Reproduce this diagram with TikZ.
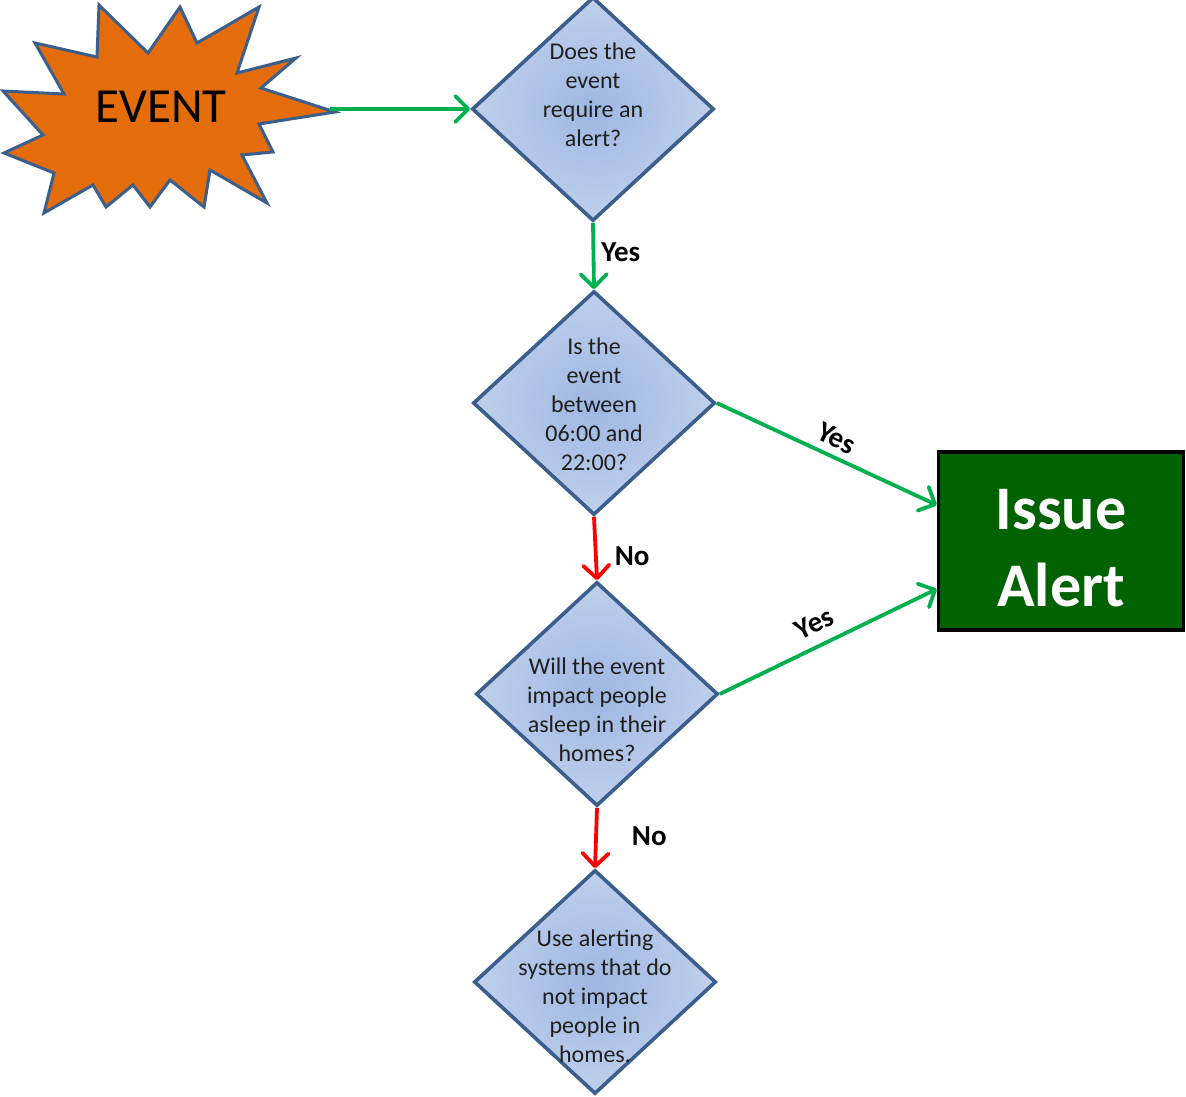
\documentclass[tikz,border=0pt]{standalone}
\usepackage{fontspec}
\setmainfont{Carlito}
\usetikzlibrary{shapes.geometric, arrows.meta}
\definecolor{burstorange}{RGB}{228,108,10}
\definecolor{shapeblue}{RGB}{58,95,140}
\definecolor{fillcentre}{RGB}{158,182,226}
\definecolor{fillrim}{RGB}{204,217,240}
\definecolor{yesgreen}{RGB}{0,176,80}
\definecolor{nored}{RGB}{255,0,0}
\definecolor{alertgreen}{RGB}{0,98,0}
\pgfdeclareradialshading{qglow}{\pgfpoint{0bp}{0bp}}{color(0bp)=(fillcentre); color(34bp)=(fillrim); color(50bp)=(fillrim)}
\tikzstyle{burst} = [draw=shapeblue, line width=3pt, fill=burstorange, line join=miter]
\tikzstyle{eventtext} = [font=\fontsize{49}{58}\selectfont, text=black, inner sep=0pt]
\tikzstyle{question} = [diamond, draw=shapeblue, line width=3.6pt, inner sep=0pt, minimum width=242pt, minimum height=224pt, shading=qglow]
\tikzstyle{qtext} = [align=center, font=\fontsize{24}{29}\selectfont, text=black!88, inner sep=0pt]
\tikzstyle{alertbox} = [rectangle, draw=black, line width=3.5pt, fill=alertgreen, minimum width=245pt, minimum height=178pt]
\tikzstyle{alerttext} = [align=center, font=\bfseries\fontsize{62}{77}\selectfont, text=white, inner sep=0pt]
\tikzstyle{branch} = [font=\bfseries\fontsize{29}{34}\selectfont, text=black, inner sep=0pt]
\tikzstyle{yesarrow} = [line width=3.8pt, draw=yesgreen, -{Straight Barb[length=13pt, width=26pt, round]}]
\tikzstyle{noarrow} = [line width=3.8pt, draw=nored, -{Straight Barb[length=13pt, width=26pt, round]}]

\begin{document}
\begin{tikzpicture}[x=1pt, y=-1pt]
        \useasboundingbox (0,0) rectangle (1186,1097);
        % the event burst
        \draw [burst] (99,5) -- (148,53) -- (180,7) -- (197,43) -- (259,7) -- (237,73) -- (296,58) -- (261,88) -- (335,112) -- (259,124) -- (273,152) -- (242,155) -- (267,203) -- (210,170) -- (204,207) -- (170,180) -- (150,207) -- (133,185) -- (106,207) -- (93,185) -- (44,213) -- (54,173) -- (4,153) -- (43,135) -- (3,91) -- (64,94) -- (35,43) -- (97,57) -- cycle;
        \node [eventtext] at (161,107) (event) {EVENT};
        \coordinate (eventtip) at (330,109);
        % decisions
        \node [question] at (593,109) (ask) {};
        \node [question] at (594,403) (daytime) {};
        \node [question] at (597,694) (asleep) {};
        \node [question] at (595,982) (quiet) {};
        \node [qtext] at (593,95) (asktext) {Does the\\event\\require an\\alert?};
        \node [qtext] at (594,404) (daytimetext) {Is the\\event\\between\\06:00 and\\22:00?};
        \node [qtext] at (597,710) (asleeptext) {Will the event\\impact people\\asleep in their\\homes?};
        \node [qtext] at (595,996) (quiettext) {Use alerting\\systems that do\\not impact\\people in\\homes.};
        \node [alertbox] at (1061,541) (alert) {};
        \node [alerttext] at (1061,548) (alertlabel) {Issue\\Alert};
        \draw [yesarrow] (eventtip) -- (ask.west);
        \draw [yesarrow] (ask.south) -- node[branch, pos=0.44, right=6pt] {Yes} (daytime.north);
        \draw [yesarrow] (daytime.east) -- node[branch, sloped, above=7pt, pos=0.51] {Yes} ([yshift=36pt]alert.west);
        \draw [noarrow] (daytime.south) -- node[branch, pos=0.62, right=17pt] {No} (asleep.north);
        \draw [yesarrow] (asleep.east) -- node[branch, sloped, above=11pt, pos=0.48] {Yes} ([yshift=-48pt]alert.west);
        \draw [noarrow] (asleep.south) -- node[branch, pos=0.47, right=34pt] {No} (quiet.north);
        \end{tikzpicture}
\end{document}
